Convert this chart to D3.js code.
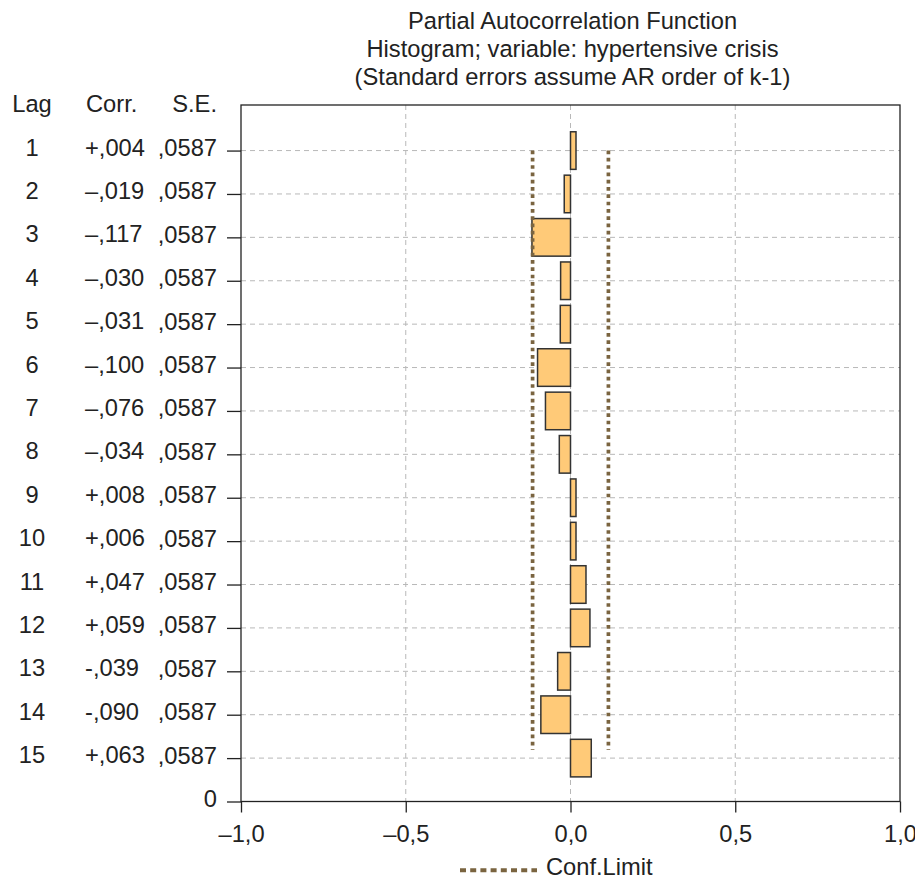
<!DOCTYPE html>
<html>
<head>
<meta charset="utf-8">
<script src="https://cdn.jsdelivr.net/npm/d3@7/dist/d3.min.js"></script>
<style>
body { margin: 0; background: #fff; }
text { font-family: "Liberation Sans", Arial, sans-serif; font-size: 23.7px; fill: #222; }
</style>
</head>
<body>
<div id="chart"></div>
<script>
// data
var lags = [1, 2, 3, 4, 5, 6, 7, 8, 9, 10, 11, 12, 13, 14, 15];
var corr = [0.004, -0.019, -0.117, -0.030, -0.031, -0.100, -0.076, -0.034, 0.008, 0.006, 0.047, 0.059, -0.039, -0.090, 0.063];
var corrLabels = ["+,004", "–,019", "–,117", "–,030", "–,031", "–,100", "–,076", "–,034", "+,008", "+,006", "+,047", "+,059", "-,039", "-,090", "+,063"];
var se = [0.0587, 0.0587, 0.0587, 0.0587, 0.0587, 0.0587, 0.0587, 0.0587, 0.0587, 0.0587, 0.0587, 0.0587, 0.0587, 0.0587, 0.0587];
var seLabels = [",0587", ",0587", ",0587", ",0587", ",0587", ",0587", ",0587", ",0587", ",0587", ",0587", ",0587", ",0587", ",0587", ",0587", ",0587"];
var xTicks = [-1, -0.5, 0, 0.5, 1];
var xTickLabels = ["–1,0", "–0,5", "0,0", "0,5", "1,0"];
var titleLines = ["Partial Autocorrelation Function", "Histogram; variable: hypertensive crisis", "(Standard errors assume AR order of k-1)"];
var headers = ["Lag", "Corr.", "S.E."];

var w = 915, h = 881,
	pLeft = 241, pRight = 900, pTop = 105, pBottom = 801.5;

var x = d3.scaleLinear().domain([-1, 1]).range([pLeft, pRight]);
// rows: lag 1 on top, lag 15 at the bottom, "0" on the axis line
var y = d3.scaleLinear().domain([0, 16.05]).range([pBottom, pTop]);
function pos(k) { return k === 0 ? 0 : 16 - k; }
function yl(k) { return y(pos(k)); }

var svg = d3.select('#chart').append('svg')
			.attr('width', w)
			.attr('height', h)
			.style('background-color', '#fff');

// title
svg.selectAll('text.title')
	.data(titleLines)
	.enter().append('text')
	.attr('class', 'title')
	.attr('x', (pLeft + pRight) / 2 + 2)
	.attr('y', function(d, i) { return 29 + i * 28; })
	.attr('text-anchor', 'middle')
	.text(function(d) { return d; });

// grid
svg.append('g').selectAll('line')
	.data(lags)
	.enter().append('line')
	.attr('x1', pLeft).attr('x2', pRight)
	.attr('y1', function(d) { return yl(d); })
	.attr('y2', function(d) { return yl(d); })
	.attr('stroke', '#b8b8b8')
	.attr('stroke-width', 1)
	.attr('stroke-dasharray', '5,4');

svg.append('g').selectAll('line')
	.data([-0.5, 0, 0.5])
	.enter().append('line')
	.attr('x1', function(d) { return x(d); })
	.attr('x2', function(d) { return x(d); })
	.attr('y1', pTop).attr('y2', pBottom)
	.attr('stroke', '#b8b8b8')
	.attr('stroke-width', 1)
	.attr('stroke-dasharray', '5,4');

// bars
var half = 0.433;
svg.append('g').selectAll('rect')
	.data(lags)
	.enter().append('rect')
	.attr('x', function(d, i) {
		var x0 = x(Math.min(0, corr[i])), x1 = x(Math.max(0, corr[i]));
		return corr[i] < 0 ? Math.min(x0, x1 - 5.5) : x0;
	})
	.attr('width', function(d, i) {
		return Math.max(5.5, Math.abs(x(corr[i]) - x(0)));
	})
	.attr('y', function(d) { return y(pos(d) + half); })
	.attr('height', function(d) { return y(pos(d) - half) - y(pos(d) + half); })
	.attr('fill', '#ffca78')
	.attr('stroke', '#333')
	.attr('stroke-width', 1.5);

// confidence limits
var conf = 1.96 * se[0];
svg.append('g').selectAll('line')
	.data([-conf, conf])
	.enter().append('line')
	.attr('x1', function(d) { return x(d); })
	.attr('x2', function(d) { return x(d); })
	.attr('y1', yl(lags[0]))
	.attr('y2', yl(lags[lags.length - 1]) - 8)
	.attr('stroke', '#7a6440')
	.attr('stroke-width', 3.7)
	.attr('stroke-dasharray', '3.7,3.6');

// frame
svg.append('rect')
	.attr('x', pLeft).attr('y', pTop)
	.attr('width', pRight - pLeft).attr('height', pBottom - pTop)
	.attr('fill', 'none')
	.attr('stroke', '#222')
	.attr('stroke-width', 1.3);

// left axis: ticks and S.E. column
var yAxis = svg.append('g')
	.attr('transform', 'translate(' + pLeft + ',0)')
	.call(d3.axisLeft(y)
		.tickValues([0].concat(lags.map(pos)))
		.tickSize(14)
		.tickPadding(10)
		.tickFormat(function(p) { return p === 0 ? '0' : seLabels[16 - p - 1]; }));
yAxis.select('.domain').remove();
yAxis.selectAll('line').attr('stroke', '#222').attr('stroke-width', 1.3);
yAxis.selectAll('text')
	.attr('dy', null)
	.attr('y', 5)
	.attr('fill', '#222')
	.style('font-family', '"Liberation Sans", Arial, sans-serif')
	.style('font-size', '23.7px');

// lag and corr columns
svg.append('g').selectAll('text')
	.data(lags)
	.enter().append('text')
	.attr('x', 32)
	.attr('y', function(d) { return yl(d) + 5; })
	.attr('text-anchor', 'middle')
	.text(function(d) { return d; });

svg.append('g').selectAll('text')
	.data(lags)
	.enter().append('text')
	.attr('x', 85)
	.attr('y', function(d) { return yl(d) + 5; })
	.text(function(d, i) { return corrLabels[i]; });

// headers
svg.append('text').attr('x', 32).attr('y', 111.5).attr('text-anchor', 'middle').text(headers[0]);
svg.append('text').attr('x', 86).attr('y', 111.5).text(headers[1]);
svg.append('text').attr('x', 217).attr('y', 111.5).attr('text-anchor', 'end').text(headers[2]);

// bottom axis
var xAxis = svg.append('g')
	.attr('transform', 'translate(0,' + pBottom + ')')
	.call(d3.axisBottom(x)
		.tickValues(xTicks)
		.tickSize(11)
		.tickPadding(12)
		.tickFormat(function(d, i) { return xTickLabels[i]; }));
xAxis.select('.domain').remove();
xAxis.selectAll('line').attr('stroke', '#222').attr('stroke-width', 1.3);
xAxis.selectAll('text')
	.attr('dy', null)
	.attr('y', 40)
	.attr('fill', '#222')
	.style('font-family', '"Liberation Sans", Arial, sans-serif')
	.style('font-size', '23.7px');

// legend
svg.append('line')
	.attr('x1', 460).attr('x2', 537)
	.attr('y1', 870.3).attr('y2', 870.3)
	.attr('stroke', '#7a6440')
	.attr('stroke-width', 4)
	.attr('stroke-dasharray', '6,4.2');
svg.append('text')
	.attr('x', 546)
	.attr('y', 875)
	.text('Conf.Limit');
</script>
</body>
</html>
